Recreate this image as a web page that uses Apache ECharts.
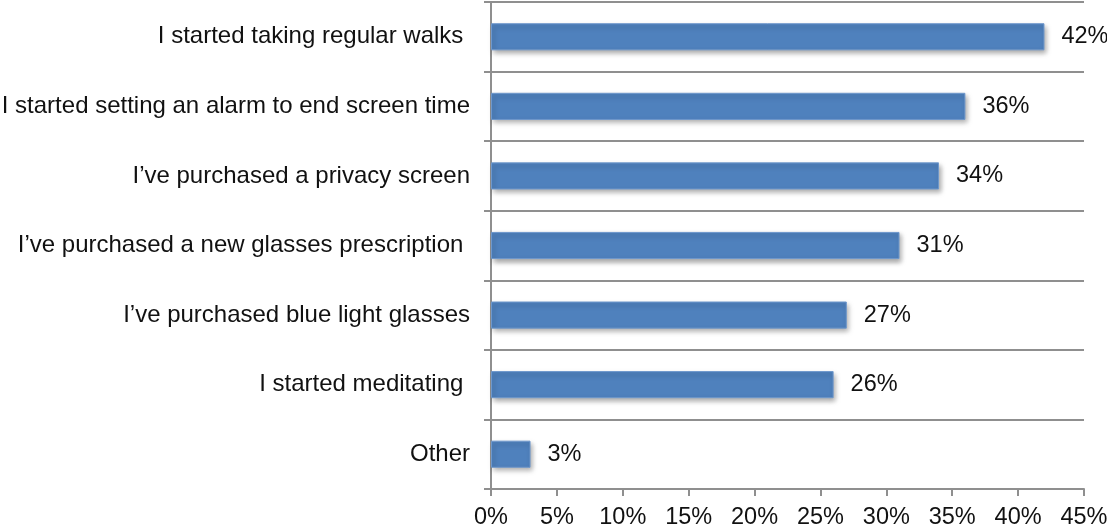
<!DOCTYPE html>
<html>
<head>
<meta charset="utf-8">
<script src="https://cdn.jsdelivr.net/npm/echarts@6/dist/echarts.min.js"></script>
<style>
html,body{margin:0;padding:0;background:#fff;}
#chart{width:1107px;height:529px;}
</style>
</head>
<body>
<div id="chart"></div>
<script>
const categories = [
  "I started taking regular walks ",
  "I started setting an alarm to end screen time",
  "I\u2019ve purchased a privacy screen",
  "I\u2019ve purchased a new glasses prescription ",
  "I\u2019ve purchased blue light glasses",
  "I started meditating ",
  "Other"
];
const values = [42, 36, 34, 31, 27, 26, 3];
const xTicks = { min: 0, max: 45, interval: 5 };

const chart = echarts.init(document.getElementById('chart'));
const font = '"Liberation Sans", Arial, sans-serif';
const gray = '#8f8f8f';
chart.setOption({
  animation: false,
  grid: { left: 491, right: 23, top: 2, bottom: 40, containLabel: false, outerBoundsMode: 'none' },
  xAxis: {
    type: 'value',
    min: xTicks.min, max: xTicks.max, interval: xTicks.interval,
    axisLine: { show: true, lineStyle: { color: gray, width: 2 } },
    axisTick: { show: true, length: 7, lineStyle: { color: gray, width: 2 } },
    splitLine: { show: false },
    axisLabel: { formatter: '{value}%', color: '#111', fontSize: 23.5, fontFamily: font, margin: 17, hideOverlap: false }
  },
  yAxis: {
    type: 'category',
    data: categories,
    inverse: true,
    axisLine: { show: true, lineStyle: { color: gray, width: 2 } },
    axisTick: { show: true, length: 7, alignWithLabel: false, lineStyle: { color: gray, width: 2 } },
    splitLine: { show: true, lineStyle: { color: gray, width: 2 } },
    axisLabel: { color: '#111', fontSize: 24, fontFamily: font, margin: 21 }
  },
  series: [{
    type: 'bar',
    data: values,
    barWidth: '39%',
    itemStyle: {
      color: '#4F81BD',
      borderColor: '#6f98cc',
      borderWidth: 1,
      shadowColor: 'rgba(0,0,0,0.35)',
      shadowBlur: 5,
      shadowOffsetX: 2,
      shadowOffsetY: 3
    },
    label: {
      show: true,
      position: 'right',
      distance: 17,
      formatter: '{c}%',
      color: '#111',
      fontSize: 23.5,
      fontFamily: font
    }
  }]
});
</script>
</body>
</html>
